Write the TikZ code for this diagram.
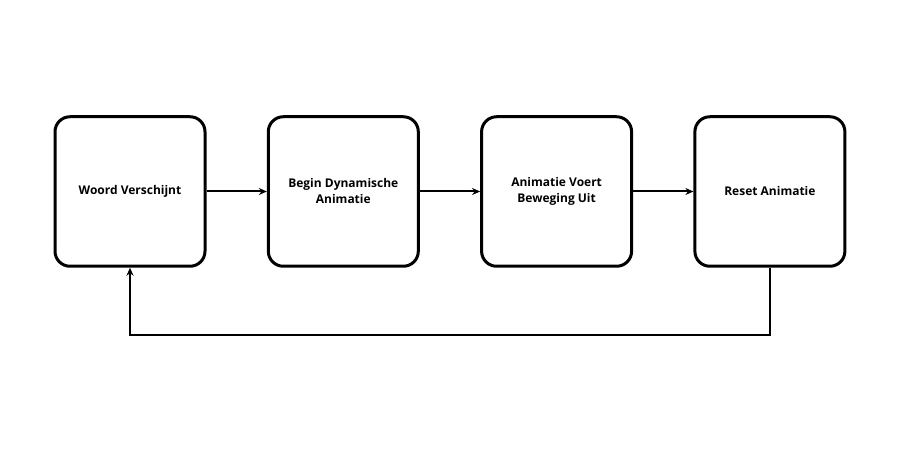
\documentclass[tikz,border=0pt]{standalone}
\usepackage{fontspec}
\setmainfont{Open Sans}
\usetikzlibrary{positioning,arrows.meta}

\begin{document}
\begin{tikzpicture} [x=1pt,y=1pt,node distance=213.3pt,line width=2pt,
  stap/.style={draw,rounded corners=15pt,line width=3pt,minimum width=150pt,
    minimum height=149.5pt,align=center,font=\bfseries\fontsize{12}{16}\selectfont},
  pijl/.style={-{Stealth[length=8pt,width=7pt]}}]

  \useasboundingbox (0,0) rectangle (900,450);

  \node[stap] (1) at (130,258.5) {Woord Verschijnt};
  \node[stap] (2) [right of=1] {Begin Dynamische\\Animatie};
  \node[stap] (3) [right of=2] {Animatie Voert\\Beweging Uit};
  \node[stap] (4) [right of=3] {Reset Animatie};

  \draw[pijl] (1) -- (2);
  \draw[pijl] (2) -- (3);
  \draw[pijl] (3) -- (4);
  \draw[pijl] (4.south) -- ++(0,-67) -| (1.south);

\end{tikzpicture}
\end{document}
